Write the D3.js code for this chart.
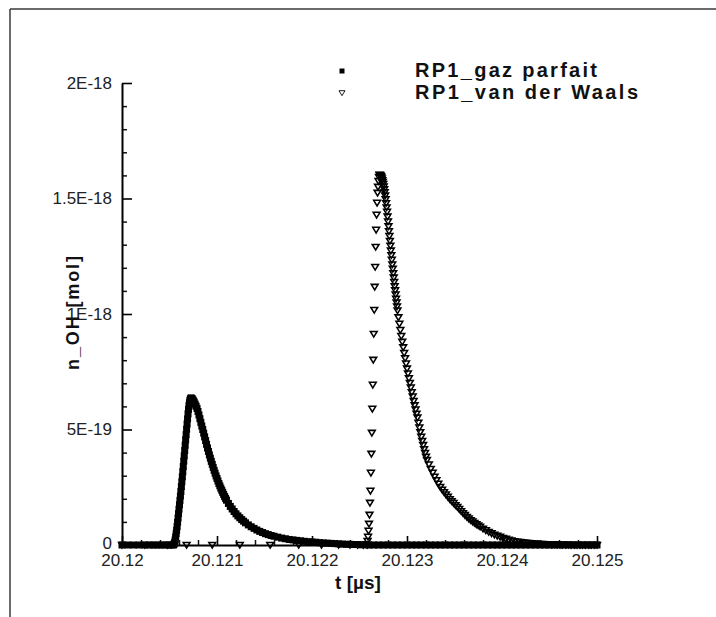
<!DOCTYPE html>
<html>
<head>
<meta charset="utf-8">
<script src="https://cdn.jsdelivr.net/npm/d3@7"></script>
<style>
  html, body { margin: 0; padding: 0; background: #fff; }
  svg { display: block; }
  text { font-family: "Liberation Sans", Arial, Helvetica, sans-serif; }
</style>
</head>
<body>
<svg id="chart" width="716" height="617"></svg>
<script>
// n_OH at probe RP1, values in units of 1E-19 mol, time in microseconds.
const gazParfait = [
  [20.12, 0], [20.12006, 0], [20.12012, 0], [20.12018, 0], [20.12024, 0], [20.12029, 0],
  [20.12033, 0], [20.12037, 0], [20.12041, 0], [20.12045, 0], [20.12049, 0], [20.12052, 0],
  [20.12054, 0], [20.120545, 0.02], [20.12055, 0.06], [20.120555, 0.12], [20.12056, 0.22],
  [20.120565, 0.35], [20.12057, 0.49], [20.120575, 0.64], [20.12058, 0.80], [20.120585, 0.98],
  [20.12059, 1.17], [20.120595, 1.36], [20.1206, 1.55], [20.120605, 1.74], [20.12061, 1.93],
  [20.120615, 2.12], [20.12062, 2.32], [20.120625, 2.53], [20.12063, 2.74], [20.120635, 2.95],
  [20.12064, 3.17], [20.120645, 3.40], [20.12065, 3.63], [20.120655, 3.86], [20.12066, 4.09],
  [20.120665, 4.32], [20.12067, 4.55], [20.120675, 4.78], [20.12068, 5.01], [20.120685, 5.24],
  [20.12069, 5.46], [20.120695, 5.68], [20.1207, 5.87], [20.120705, 6.03], [20.12071, 6.16],
  [20.120715, 6.26], [20.12072, 6.32], [20.120725, 6.36], [20.12073, 6.36],
  [20.12074, 6.33], [20.12075, 6.27], [20.12076, 6.19], [20.12077, 6.10], [20.12078, 6.01],
  [20.12079, 5.91], [20.1208, 5.78], [20.12081, 5.63], [20.12082, 5.47], [20.12083, 5.31],
  [20.12084, 5.15], [20.12085, 5.00], [20.12086, 4.84], [20.12087, 4.68], [20.12088, 4.52],
  [20.12089, 4.36], [20.1209, 4.20], [20.12091, 4.05], [20.12092, 3.90], [20.12093, 3.76],
  [20.12094, 3.62], [20.12095, 3.49], [20.12096, 3.36], [20.12097, 3.23], [20.12098, 3.11],
  [20.12099, 2.99], [20.121, 2.88], [20.12101, 2.77], [20.12102, 2.66], [20.12103, 2.56],
  [20.12104, 2.46], [20.12105, 2.37], [20.12106, 2.28], [20.12107, 2.19], [20.12108, 2.10],
  [20.12109, 2.02], [20.1211, 1.94], [20.12112, 1.80], [20.12114, 1.67], [20.12116, 1.56],
  [20.12118, 1.45], [20.1212, 1.35], [20.12122, 1.26], [20.12124, 1.18], [20.12126, 1.10],
  [20.12128, 1.03], [20.1213, 0.96], [20.12133, 0.87], [20.12136, 0.79], [20.12139, 0.72],
  [20.12142, 0.65], [20.12145, 0.59], [20.12148, 0.54], [20.12151, 0.49], [20.12154, 0.45],
  [20.12157, 0.41], [20.1216, 0.38], [20.12164, 0.34], [20.12168, 0.30], [20.12172, 0.27],
  [20.12176, 0.24], [20.1218, 0.22], [20.12184, 0.20], [20.12188, 0.18], [20.12192, 0.16],
  [20.12196, 0.14], [20.122, 0.13], [20.12204, 0.12], [20.12208, 0.10], [20.12212, 0.09],
  [20.12216, 0.08], [20.1222, 0.07], [20.12224, 0.06], [20.12228, 0.05], [20.12232, 0.04],
  [20.12236, 0.03], [20.1224, 0.03], [20.12244, 0.02], [20.12248, 0.02], [20.12252, 0.01],
  [20.12256, 0.01], [20.1226, 0], [20.12265, 0], [20.1227, 0], [20.12275, 0], [20.1228, 0],
  [20.12285, 0], [20.1229, 0], [20.12295, 0], [20.123, 0], [20.12305, 0], [20.1231, 0],
  [20.12315, 0], [20.1232, 0], [20.12325, 0], [20.1233, 0], [20.12335, 0], [20.1234, 0],
  [20.12345, 0], [20.1235, 0], [20.12355, 0], [20.1236, 0], [20.12365, 0], [20.1237, 0],
  [20.12375, 0], [20.1238, 0], [20.12385, 0], [20.1239, 0], [20.12395, 0], [20.124, 0],
  [20.12405, 0], [20.1241, 0], [20.12415, 0], [20.1242, 0], [20.12425, 0], [20.1243, 0],
  [20.12435, 0], [20.1244, 0], [20.12445, 0], [20.1245, 0], [20.12455, 0], [20.1246, 0],
  [20.12465, 0], [20.1247, 0], [20.12475, 0], [20.1248, 0], [20.12485, 0], [20.1249, 0],
  [20.12495, 0], [20.125, 0]
];

const vanDerWaals = [
  [20.12, 0], [20.12024, 0], [20.12048, 0], [20.12068, 0], [20.12095, 0], [20.12124, 0],
  [20.12156, 0], [20.12186, 0], [20.1221, 0], [20.12228, 0], [20.1224, 0], [20.12248, 0],
  [20.12254, 0],
  [20.12258, 0], [20.122585, 0.17], [20.12259, 0.35], [20.122595, 0.61], [20.1226, 0.91],
  [20.122605, 1.30], [20.12261, 1.82], [20.122615, 2.34], [20.12262, 3.12], [20.122625, 3.94],
  [20.12263, 4.85], [20.122635, 5.89], [20.12264, 6.93], [20.122645, 8.01], [20.12265, 9.13],
  [20.122655, 10.17], [20.12266, 11.17], [20.122665, 12.03], [20.12267, 12.90],
  [20.122675, 13.64], [20.12268, 14.29], [20.122685, 14.81], [20.12269, 15.24],
  [20.122695, 15.50], [20.1227, 15.75], [20.122705, 15.92],
  [20.12271, 16.02], [20.122715, 16.01], [20.12272, 15.99], [20.122725, 15.96], [20.12273, 15.92],
  [20.122735, 15.86], [20.12274, 15.79], [20.122745, 15.71], [20.12275, 15.62], [20.122755, 15.51],
  [20.12276, 15.39], [20.122765, 15.26], [20.12277, 15.12], [20.122775, 14.96], [20.12278, 14.79],
  [20.122785, 14.61], [20.12279, 14.42], [20.122795, 14.21], [20.1228, 14.00], [20.122805, 13.79],
  [20.12281, 13.58], [20.122815, 13.37], [20.12282, 13.16], [20.122825, 12.95], [20.12283, 12.74],
  [20.122835, 12.54], [20.12284, 12.34], [20.122845, 12.14], [20.12285, 11.95], [20.122855, 11.76],
  [20.12286, 11.57], [20.122865, 11.38], [20.12287, 11.20], [20.122875, 11.02], [20.12288, 10.84],
  [20.122885, 10.66], [20.12289, 10.49], [20.122895, 10.32], [20.1229, 10.15],
  [20.12291, 9.85], [20.12292, 9.57], [20.12293, 9.30], [20.12294, 9.04], [20.12295, 8.79],
  [20.12296, 8.55], [20.12297, 8.31], [20.12298, 8.08], [20.12299, 7.85], [20.123, 7.63],
  [20.12301, 7.42], [20.12302, 7.21], [20.12303, 7.01], [20.12304, 6.81], [20.12305, 6.61],
  [20.12306, 6.42], [20.12307, 6.23], [20.12308, 6.04], [20.12309, 5.86], [20.1231, 5.68],
  [20.12311, 5.51], [20.12312, 5.29], [20.12313, 5.08], [20.12314, 4.88], [20.12315, 4.68],
  [20.12316, 4.50], [20.12317, 4.32], [20.12318, 4.14], [20.12319, 3.98], [20.1232, 3.82],
  [20.12321, 3.67], [20.12323, 3.48], [20.12325, 3.29], [20.12327, 3.12], [20.12329, 2.95],
  [20.12331, 2.80], [20.12333, 2.65], [20.12335, 2.51], [20.12337, 2.39], [20.12339, 2.28],
  [20.12341, 2.18], [20.12343, 2.08], [20.12345, 1.98], [20.12347, 1.89], [20.12349, 1.81],
  [20.12351, 1.72], [20.12353, 1.64], [20.12355, 1.55], [20.12357, 1.46], [20.12359, 1.37],
  [20.12361, 1.29], [20.12363, 1.21], [20.12365, 1.14], [20.12367, 1.07], [20.12369, 1.01],
  [20.12371, 0.95], [20.12373, 0.89], [20.12375, 0.84], [20.12377, 0.79], [20.1238, 0.70],
  [20.12383, 0.63], [20.12386, 0.56], [20.12389, 0.50], [20.12392, 0.44], [20.12395, 0.39],
  [20.12398, 0.35], [20.12401, 0.30], [20.12404, 0.26], [20.12407, 0.22], [20.1241, 0.19],
  [20.12413, 0.16], [20.12416, 0.14], [20.12419, 0.12], [20.12422, 0.10], [20.12425, 0.09],
  [20.12428, 0.08], [20.12431, 0.07], [20.12434, 0.06], [20.12437, 0.05], [20.1244, 0.04],
  [20.12443, 0.04], [20.12446, 0.03], [20.12449, 0.03], [20.12452, 0.02], [20.12455, 0.02],
  [20.12458, 0.02], [20.12461, 0.01], [20.12464, 0.01], [20.12467, 0.01], [20.1247, 0.01],
  [20.12473, 0], [20.12476, 0], [20.12479, 0], [20.12482, 0], [20.12485, 0], [20.12488, 0],
  [20.12491, 0], [20.12494, 0], [20.12497, 0], [20.125, 0]
];

const seriesNames = ["RP1_gaz parfait", "RP1_van der Waals"];
const xTicks = [20.12, 20.121, 20.122, 20.123, 20.124, 20.125];
const xTickLabels = ["20.12", "20.121", "20.122", "20.123", "20.124", "20.125"];
const yTicks = [0, 5, 10, 15, 20];
const yTickLabels = ["0", "5E-19", "1E-18", "1.5E-18", "2E-18"];
const xTitle = "t [\u00b5s]";
const yTitle = "n_OH [mol]";

const svg = d3.select("#chart");
svg.append("rect").attr("width", 716).attr("height", 617).attr("fill", "#fff");

// page frame
svg.append("line").attr("x1", 10).attr("x2", 716).attr("y1", 9).attr("y2", 9)
  .attr("stroke", "#3a3a3a").attr("stroke-width", 1.5);
svg.append("line").attr("x1", 10).attr("x2", 10).attr("y1", 9).attr("y2", 617)
  .attr("stroke", "#3a3a3a").attr("stroke-width", 1.5);

const x = d3.scaleLinear().domain([20.12, 20.125]).range([122, 597]);
const y = d3.scaleLinear().domain([0, 20]).range([545, 83]);

// minor ticks
const xMinor = d3.range(0, 26).map(i => 20.12 + i * 0.0002).filter(v => !xTicks.some(t => Math.abs(t - v) < 1e-9));
const yMinor = d3.range(0, 21).filter(v => v % 5 !== 0);

svg.append("g").attr("transform", "translate(0,545)")
  .call(d3.axisBottom(x).tickValues(xMinor).tickFormat("").tickSizeInner(-5).tickSizeOuter(0))
  .call(g => g.select(".domain").remove())
  .call(g => g.selectAll("line").attr("stroke", "#111").attr("stroke-width", 1.5));
svg.append("g").attr("transform", "translate(122,0)")
  .call(d3.axisLeft(y).tickValues(yMinor).tickFormat("").tickSizeInner(-5).tickSizeOuter(0))
  .call(g => g.select(".domain").remove())
  .call(g => g.selectAll("line").attr("stroke", "#111").attr("stroke-width", 1.5));

// data markers
const tri = "M-3.4,-2.6L3.4,-2.6L0,3Z";
svg.append("g").selectAll("path").data(vanDerWaals).join("path")
  .attr("d", tri)
  .attr("transform", d => `translate(${x(d[0])},${y(d[1])})`)
  .attr("fill", "none").attr("stroke", "#000").attr("stroke-width", 1.55);

svg.append("g").selectAll("rect").data(gazParfait).join("rect")
  .attr("x", d => x(d[0]) - 3.5).attr("y", d => y(d[1]) - 3.5)
  .attr("width", 7).attr("height", 7).attr("fill", "#000");

// main axes
svg.append("g").attr("transform", "translate(0,545)")
  .call(d3.axisBottom(x).tickValues(xTicks).tickFormat((d, i) => xTickLabels[i])
    .tickSizeInner(-9).tickSizeOuter(0).tickPadding(9))
  .call(g => g.select(".domain").attr("stroke", "#000").attr("stroke-width", 2))
  .call(g => g.selectAll("line").attr("stroke", "#000").attr("stroke-width", 1.6))
  .call(g => g.selectAll("text").attr("font-size", 17).attr("fill", "#222")
    .attr("font-family", "'Liberation Sans', Arial, sans-serif"));

svg.append("g").attr("transform", "translate(122,0)")
  .call(d3.axisLeft(y).tickValues(yTicks).tickFormat((d, i) => yTickLabels[i])
    .tickSizeInner(-10).tickSizeOuter(0).tickPadding(10))
  .call(g => g.select(".domain").attr("stroke", "#000").attr("stroke-width", 2))
  .call(g => g.selectAll("line").attr("stroke", "#000").attr("stroke-width", 1.6))
  .call(g => g.selectAll("text").attr("font-size", 17).attr("fill", "#222")
    .attr("font-family", "'Liberation Sans', Arial, sans-serif"))
  .call(g => g.selectAll(".tick").filter(d => d === 0).select("text").attr("dy", "0.2em"));

// axis titles
svg.append("text").attr("x", 358).attr("y", 589).attr("text-anchor", "middle")
  .attr("font-size", 19).attr("font-weight", "bold").attr("fill", "#111").text(xTitle);
svg.append("text").attr("transform", "translate(79,313) rotate(-90)")
  .attr("text-anchor", "middle").attr("font-size", 18).attr("font-weight", "bold")
  .attr("fill", "#111").attr("textLength", 114).attr("lengthAdjust", "spacing").text(yTitle);

// legend
const legend = svg.append("g");
legend.append("rect").attr("x", 339.5).attr("y", 68.5).attr("width", 5).attr("height", 5).attr("fill", "#000");
legend.append("path").attr("d", "M-3,-2.3L3,-2.3L0,2.7Z").attr("transform", "translate(342,93)")
  .attr("fill", "#fff").attr("stroke", "#1a1a1a").attr("stroke-width", 1);
legend.selectAll("text.lbl").data(seriesNames).join("text").attr("class", "lbl")
  .attr("x", 415).attr("y", (d, i) => 77 + i * 22)
  .attr("font-size", 20).attr("font-weight", "bold").attr("fill", "#111")
  .attr("textLength", (d, i) => i === 0 ? 182 : 223).attr("lengthAdjust", "spacing")
  .text(d => d);
</script>
</body>
</html>
